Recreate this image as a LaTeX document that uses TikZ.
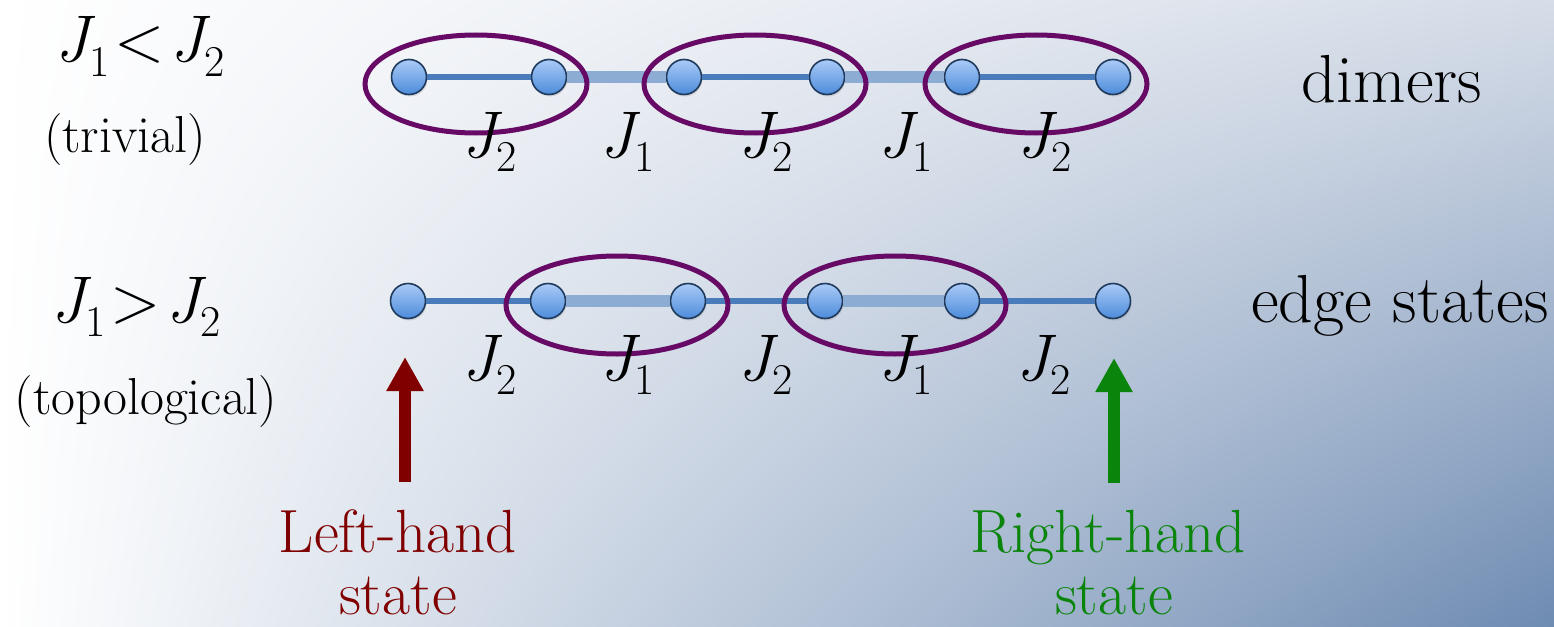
\documentclass[tikz,border=0pt]{standalone}
\usepackage{fontspec}
\usetikzlibrary{shapes.geometric,arrows.meta,shadows,shadings}
\definecolor{bgtr}{HTML}{D6DDE8}
\definecolor{bgbr}{HTML}{6E8BB2}
\definecolor{sitetop}{HTML}{AACBF7}
\definecolor{sitebot}{HTML}{4C8BDA}
\definecolor{siteedge}{HTML}{1F3A5C}
\definecolor{bondstrong}{HTML}{4A7CBB}
\definecolor{bondweak}{HTML}{8DACD4}
\definecolor{dimerc}{HTML}{660A66}
\definecolor{lhred}{HTML}{800000}
\definecolor{rhgreen}{HTML}{0A840A}
\newcommand{\Jlab}[1]{{\itshape J}\raisebox{-0.22em}{\fontsize{44}{46}\selectfont #1}}
\begin{document}
\begin{tikzpicture}[x=1pt,y=-1pt,
  site/.style={circle, minimum size=35pt, inner sep=0pt, draw=siteedge, line width=1.6pt,
    top color=sitetop, bottom color=sitebot,
    drop shadow={shadow xshift=1pt, shadow yshift=-2pt, opacity=0.25}},
  jtwo/.style={draw=bondstrong, line width=5.5pt},
  jone/.style={draw=bondweak, line width=12pt},
  dimer/.style={ellipse, draw=dimerc, line width=5pt, minimum width=222pt, minimum height=98pt, inner sep=0pt},
  jlab/.style={anchor=base, inner sep=0pt, font=\fontsize{66}{70}\selectfont},
  side/.style={anchor=base, inner sep=0pt, font=\fontsize{52}{56}\selectfont},
  right lab/.style={anchor=base, inner sep=0pt, font=\fontsize{68}{72}\selectfont},
  edge lab/.style={anchor=base, inner sep=0pt, font=\fontsize{61}{66}\selectfont},
  uparrow/.style={line width=12pt, -{Triangle[length=34pt,width=35pt]}}
]
\useasboundingbox (0,0) rectangle (1554,626);
\shade[upper left=white, upper right=bgtr, lower left=white, lower right=bgbr] (0,0) rectangle (1554,626);

% sites
\node[site] (a1) at (409,77) {};
\node[site] (a2) at (549,77) {};
\node[site] (a3) at (684,77) {};
\node[site] (a4) at (827,77) {};
\node[site] (a5) at (962,77) {};
\node[site] (a6) at (1113,77) {};
\node[site] (b1) at (408,301) {};
\node[site] (b2) at (548,301) {};
\node[site] (b3) at (688,301) {};
\node[site] (b4) at (825,301) {};
\node[site] (b5) at (962,301) {};
\node[site] (b6) at (1113,301) {};

% bonds
\draw[jtwo] (a1) -- (a2);
\draw[jone] (a2) -- (a3);
\draw[jtwo] (a3) -- (a4);
\draw[jone] (a4) -- (a5);
\draw[jtwo] (a5) -- (a6);
\draw[jtwo] (b1) -- (b2);
\draw[jone] (b2) -- (b3);
\draw[jtwo] (b3) -- (b4);
\draw[jone] (b4) -- (b5);
\draw[jtwo] (b5) -- (b6);

% dimers
\node[dimer] (d1) at (476,84) {};
\node[dimer] (d2) at (755,84) {};
\node[dimer] (d3) at (1036,84) {};
\node[dimer] (e1) at (617,305) {};
\node[dimer] (e2) at (895,305) {};

% coupling labels
\node[jlab] (la1) at (490,157) {\Jlab{2}};
\node[jlab] (la2) at (628,157) {\Jlab{1}};
\node[jlab] (la3) at (766,157) {\Jlab{2}};
\node[jlab] (la4) at (906,157) {\Jlab{1}};
\node[jlab] (la5) at (1045,157) {\Jlab{2}};
\node[jlab] (lb1) at (490,380) {\Jlab{2}};
\node[jlab] (lb2) at (628,380) {\Jlab{1}};
\node[jlab] (lb3) at (766,380) {\Jlab{2}};
\node[jlab] (lb4) at (906,380) {\Jlab{1}};
\node[jlab] (lb5) at (1044,380) {\Jlab{2}};

% side labels
\node[jlab] (c1) at (140,62) {\Jlab{1}\kern5pt<\kern5pt\Jlab{2}};
\node[side] (t1) at (125,152) {(trivial)};
\node[jlab] (c2) at (136,322) {\Jlab{1}\kern5pt>\kern5pt\Jlab{2}};
\node[side] (t2) at (146,414) {(topological)};
\node[right lab] (dim) at (1392,102) {dimers};
\node[right lab] (edg) at (1400,322) {edge states};

% edge-state labels
\node[edge lab, text=lhred] (lh) at (398,552) {Left-hand};
\node[edge lab, text=lhred] (lhs) at (398,614) {state};
\node[edge lab, text=rhgreen] (rh) at (1108,552) {Right-hand};
\node[edge lab, text=rhgreen] (rhs) at (1114,614) {state};

% arrows
\coordinate (lbase) at (405,482);
\coordinate (ltip) at (405,357);
\coordinate (rbase) at (1114,483);
\coordinate (rtip) at (1114,358);
\draw[uparrow, draw=lhred, fill=lhred] (lbase) -- (ltip);
\draw[uparrow, draw=rhgreen, fill=rhgreen] (rbase) -- (rtip);
\end{tikzpicture}
\end{document}
